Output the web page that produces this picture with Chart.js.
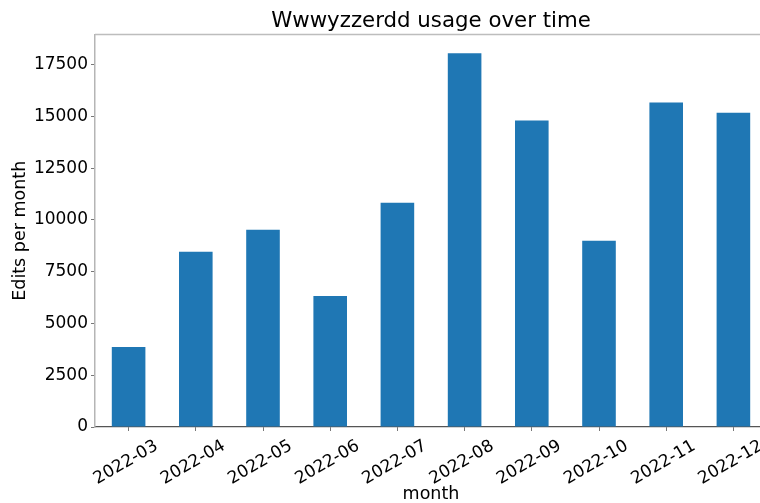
<!DOCTYPE html>
<html>
<head>
<meta charset="utf-8">
<script src="https://cdn.jsdelivr.net/npm/chart.js@4/dist/chart.umd.min.js"></script>
<style>
html, body { margin: 0; padding: 0; background: #fff; overflow: hidden; width: 760px; height: 503px; }
#wrap { position: relative; width: 760px; height: 503px; overflow: hidden; }
#c { position: absolute; left: 0; top: 0; }
</style>
</head>
<body>
<div id="wrap"><canvas id="c" width="800" height="503" style="width:800px;height:503px"></canvas></div>
<script>
const months = ["2022-03","2022-04","2022-05","2022-06","2022-07","2022-08","2022-09","2022-10","2022-11","2022-12"];
const edits = [3870, 8460, 9530, 6330, 10830, 18050, 14800, 8990, 15670, 15180];
const yTicks = [0, 2500, 5000, 7500, 10000, 12500, 15000, 17500];
const chartTitle = "Wwwyzzerdd usage over time";
const xTitle = "month";
const yTitle = "Edits per month";

const FONT = "'DejaVu Sans', sans-serif";

const axesFrame = {
  id: 'axesFrame',
  afterLayout(chart) {
    const tb = chart.titleBlock;
    if (tb) {
      tb.left = chart.chartArea.left;
      tb.right = chart.chartArea.right;
      tb.width = tb.right - tb.left;
    }
  },
  afterDraw(chart) {
    const {ctx, chartArea} = chart;
    ctx.save();
    ctx.strokeStyle = '#bdbdbd';
    ctx.lineWidth = 1.5;
    ctx.beginPath();
    ctx.moveTo(chartArea.left, chartArea.top);
    ctx.lineTo(chartArea.right, chartArea.top);
    ctx.stroke();
    ctx.restore();
  }
};

new Chart(document.getElementById('c'), {
  type: 'bar',
  data: {
    labels: months,
    datasets: [{
      data: edits,
      backgroundColor: '#1f77b4',
      borderWidth: 0,
      barPercentage: 0.5,
      categoryPercentage: 1.0
    }]
  },
  options: {
    responsive: false,
    devicePixelRatio: 1,
    animation: false,
    layout: { padding: { top: 0, right: 33, bottom: 0, left: 0 } },
    plugins: {
      legend: { display: false },
      tooltip: { enabled: false },
      title: {
        display: true,
        text: chartTitle,
        color: '#000',
        font: { family: FONT, size: 21.3, weight: 'normal', lineHeight: 1.2 },
        padding: { top: 9, bottom: 0 }
      }
    },
    scales: {
      x: {
        offset: true,
        grid: { display: true, drawOnChartArea: false, drawTicks: true, tickLength: 4, tickColor: '#777', offset: false },
        border: { display: true, color: '#555', width: 1.2 },
        ticks: {
          color: '#000',
          font: { family: FONT, size: 17 },
          maxRotation: 30, minRotation: 30,
          autoSkip: false,
          padding: 5,
          labelOffset: 28
        },
        title: {
          display: true, text: xTitle, color: '#000',
          font: { family: FONT, size: 17.5 },
          padding: { top: 0, bottom: -2 }
        },
        afterFit(scale) { scale.height = 76; }
      },
      y: {
        min: 0,
        max: 18955,
        afterBuildTicks(scale) { scale.ticks = yTicks.map(v => ({ value: v })); },
        grid: { display: true, drawOnChartArea: false, drawTicks: true, tickLength: 4, tickColor: '#777' },
        border: { display: true, color: '#b5b5b5', width: 1.5 },
        ticks: {
          color: '#000',
          font: { family: FONT, size: 17 },
          padding: 3,
          callback: (v) => String(v)
        },
        title: {
          display: true, text: yTitle, color: '#000',
          font: { family: FONT, size: 17.5 },
          padding: { top: 10, bottom: 4 }
        },
        afterFit(scale) { scale.width = 95; }
      }
    }
  },
  plugins: [axesFrame]
});
</script>
</body>
</html>
